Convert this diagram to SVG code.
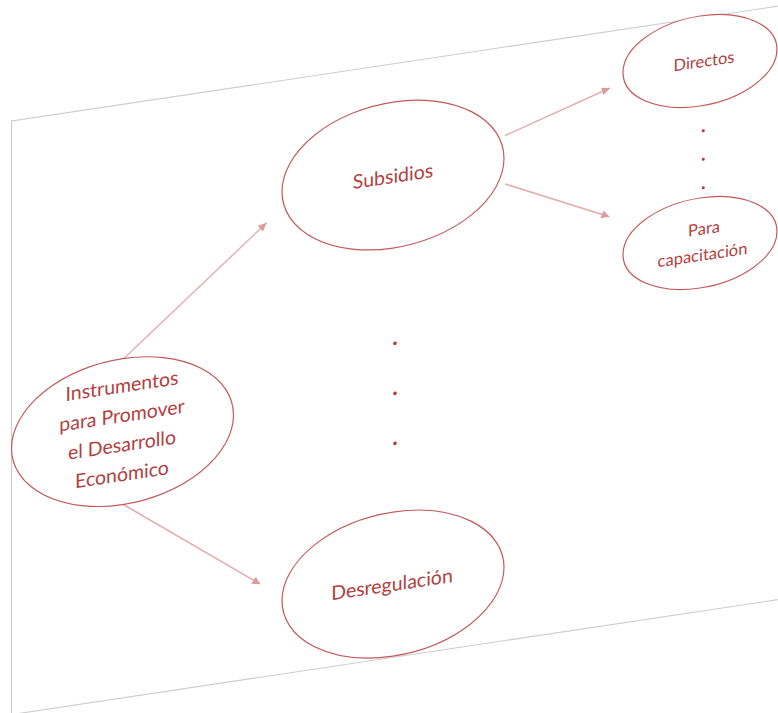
<svg xmlns="http://www.w3.org/2000/svg" width="778" height="713" viewBox="0 0 778 713">
<style>
.plane { fill: #ffffff; stroke: #cdcdcd; stroke-width: 1.1; }
.node ellipse { fill: #ffffff; stroke: #c4595a; stroke-width: 1.2; }
.lbl { font-family: Lato, "Liberation Sans", sans-serif; fill: #b3403e; text-anchor: middle; }
.big { font-size: 19.5px; }
.small { font-size: 16.5px; }
.edge { stroke: #e4adac; stroke-width: 1.5; fill: none; marker-end: url(#arr); }
.dot { fill: #b03a3a; }
</style>
<defs>
<marker id="arr" viewBox="0 0 10 10" refX="10" refY="5" markerWidth="9" markerHeight="8" orient="auto" markerUnits="userSpaceOnUse">
<path d="M0,0 L10,5 L0,10 z" fill="#dc9c9b"/>
</marker>
</defs>
<rect width="778" height="713" fill="#ffffff"/>
<g transform="matrix(1,-0.15,0,1,0,0)">
<rect class="plane" x="11.5" y="122.8" width="800" height="593.5"/>
<g id="connectors">
<line class="edge" x1="123.3" y1="377.5" x2="266.7" y2="262.7"/>
<line class="edge" x1="123.3" y1="523" x2="260" y2="623"/>
<line class="edge" x1="505" y1="211.4" x2="610" y2="179.5"/>
<line class="edge" x1="505" y1="259.7" x2="609.3" y2="308.1"/>
</g>
<g id="node-instrumentos" class="node">
<ellipse cx="122.5" cy="450" rx="111" ry="73"/>
<text class="lbl big" x="122" y="411">Instrumentos</text>
<text class="lbl big" x="122" y="440.5">para Promover</text>
<text class="lbl big" x="122" y="470">el Desarrollo</text>
<text class="lbl big" x="122" y="499.5">Económico</text>
</g>
<g id="node-subsidios" class="node">
<ellipse cx="393" cy="234" rx="111" ry="73"/>
<text class="lbl big" x="393" y="242">Subsidios</text>
</g>
<g id="node-desregulacion" class="node">
<ellipse cx="393" cy="643" rx="111" ry="72"/>
<text class="lbl big" x="392" y="650">Desregulación</text>
</g>
<g id="node-directos" class="node">
<ellipse cx="700" cy="166" rx="77" ry="45"/>
<text class="lbl small" x="704" y="172.5">Directos</text>
</g>
<g id="node-capacitacion" class="node">
<ellipse cx="700" cy="348" rx="77" ry="45"/>
<text class="lbl small" x="704" y="340">Para</text>
<text class="lbl small" x="702.5" y="366">capacitación</text>
</g>
<g id="dots">
<circle class="dot" cx="395" cy="402.6" r="1.8"/>
<circle class="dot" cx="395" cy="452.6" r="1.8"/>
<circle class="dot" cx="395" cy="502.6" r="1.8"/>
<circle class="dot" cx="703.3" cy="236.2" r="1.5"/>
<circle class="dot" cx="703.3" cy="264.8" r="1.5"/>
<circle class="dot" cx="703.3" cy="293.2" r="1.5"/>
</g>
</g>
</svg>
